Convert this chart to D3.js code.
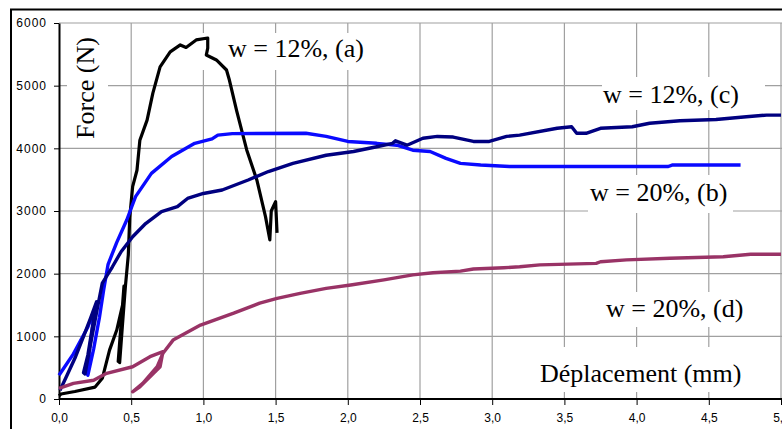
<!DOCTYPE html>
<html>
<head>
<meta charset="utf-8">
<script src="https://cdn.jsdelivr.net/npm/d3@7"></script>
<style>
  body { margin: 0; background: #fff; }
  svg { display: block; }
</style>
</head>
<body>
<script>
// displacement (mm), force (N)
const curveA = [[0,50],[0.014,80],[0.11,120],[0.25,190],[0.3,330],[0.35,780],[0.40,1100],[0.44,1500],[0.45,1800],
  [0.43,1200],[0.41,600],[0.42,580],[0.44,1200],[0.46,1800],[0.48,2300],[0.49,2900],[0.51,3390],[0.54,3650],
  [0.56,4130],[0.61,4450],[0.65,4880],[0.70,5300],[0.77,5540],[0.84,5650],[0.88,5610],[0.95,5730],[1.03,5760],
  [1.03,5600],[1.02,5490],[1.09,5410],[1.16,5250],[1.18,5090],[1.23,4600],[1.30,3975],[1.37,3495],[1.43,2910],
  [1.46,2540],[1.47,3000],[1.49,3100],[1.50,3150],[1.51,2650]];
const curveB = [[0,380],[0.1,720],[0.2,1150],[0.25,1450],[0.19,420],[0.2,380],[0.24,800],[0.28,1300],[0.31,1750],
  [0.34,2150],[0.40,2500],[0.47,2860],[0.53,3230],[0.64,3600],[0.78,3870],[0.94,4080],[1.06,4150],[1.10,4210],
  [1.2,4235],[1.71,4240],[1.85,4190],[2.0,4110],[2.2,4080],[2.34,4050],[2.45,3970],[2.57,3950],[2.68,3840],
  [2.78,3760],[2.92,3735],[3.12,3710],[4.22,3710],[4.25,3735],[4.72,3735]];
const curveC = [[0.007,140],[0.05,350],[0.11,650],[0.17,1000],[0.22,1300],[0.26,1550],[0.2,700],[0.17,420],[0.18,400],
  [0.22,900],[0.27,1500],[0.30,1850],[0.37,2110],[0.43,2350],[0.51,2590],[0.60,2800],[0.71,2990],[0.82,3070],
  [0.89,3200],[1.0,3280],[1.13,3335],[1.31,3495],[1.45,3630],[1.62,3760],[1.85,3890],[2.04,3950],[2.2,4025],
  [2.31,4080],[2.33,4120],[2.41,4050],[2.52,4160],[2.62,4190],[2.73,4180],[2.87,4110],[2.98,4110],[3.10,4190],
  [3.19,4210],[3.45,4320],[3.55,4345],[3.585,4240],[3.65,4240],[3.75,4320],[3.97,4345],[4.09,4400],[4.30,4440],
  [4.55,4460],[4.76,4505],[4.90,4530],[5.0,4530]];
const curveD = [[0,170],[0.1,250],[0.24,300],[0.33,410],[0.51,515],[0.63,675],[0.72,755],[0.70,515],[0.56,195],
  [0.51,115],[0.58,250],[0.68,515],[0.72,730],[0.79,940],[0.98,1180],[1.21,1370],[1.39,1530],[1.51,1605],
  [1.67,1685],[1.85,1765],[2.02,1820],[2.25,1900],[2.45,1980],[2.59,2015],[2.78,2040],[2.87,2075],[3.08,2095],
  [3.19,2110],[3.33,2140],[3.72,2165],[3.75,2190],[3.93,2220],[4.23,2245],[4.60,2270],[4.79,2310],[5.0,2310]];

const xTicks = [0, 0.5, 1, 1.5, 2, 2.5, 3, 3.5, 4, 4.5, 5];
const yTicks = [0, 1000, 2000, 3000, 4000, 5000, 6000];

const seriesNames = ["w = 12%, (a)", "w = 20%, (b)", "w = 12%, (c)", "w = 20%, (d)"];
const seriesColors = ["#000000", "#0a0aff", "#000080", "#993366"];

const width = 782, height = 429;
const x = d3.scaleLinear().domain([0, 5]).range([59, 781]);
const y = d3.scaleLinear().domain([0, 6000]).range([399, 23]);

const svg = d3.select("body").append("svg")
  .attr("width", width)
  .attr("height", height);

// outer frame (cut by the picture edge)
svg.append("path")
  .attr("d", `M11,${height + 2}V9.5H${width + 2}`)
  .attr("fill", "none")
  .attr("stroke", "#000")
  .attr("stroke-width", 2);

// grid
svg.append("g")
  .selectAll("line")
  .data(yTicks.slice(1))
  .join("line")
  .attr("x1", x(0)).attr("x2", width)
  .attr("y1", d => y(d)).attr("y2", d => y(d))
  .attr("stroke", "#a0a0a0").attr("stroke-width", 1.2);

svg.append("g")
  .selectAll("line")
  .data(xTicks.slice(1))
  .join("line")
  .attr("x1", d => x(d)).attr("x2", d => x(d))
  .attr("y1", y(6000)).attr("y2", y(0))
  .attr("stroke", "#a0a0a0").attr("stroke-width", 1.2);

// white boxes behind the labels
const boxes = [
  [67, 30, 41, 115],
  [200, 33, 172, 37],
  [602, 77, 163, 33],
  [588, 175, 145, 38],
  [600, 292, 145, 35],
  [535, 347, 210, 45]
];
svg.append("g")
  .selectAll("rect")
  .data(boxes)
  .join("rect")
  .attr("x", d => d[0]).attr("y", d => d[1])
  .attr("width", d => d[2]).attr("height", d => d[3])
  .attr("fill", "#fff");

// axes
const fmt = d => d3.format(".1f")(d).replace(".", ",");
const xAxis = svg.append("g")
  .attr("transform", `translate(0,${y(0)})`)
  .call(d3.axisBottom(x).tickValues(xTicks).tickFormat(fmt).tickSize(6).tickSizeOuter(0));
xAxis.select(".domain").attr("stroke-width", 2).attr("d", `M${x(0)},0H${width}`);
xAxis.selectAll("text")
  .attr("y", 14)
  .attr("font-family", "'Liberation Sans', Arial, sans-serif")
  .attr("font-size", 12)
  .attr("fill", "#000");

const yAxis = svg.append("g")
  .attr("transform", `translate(${x(0)},0)`)
  .call(d3.axisLeft(y).tickValues(yTicks).tickFormat(d3.format("d")).tickSize(5).tickSizeOuter(0));
yAxis.select(".domain").attr("stroke-width", 2);
yAxis.selectAll("text")
  .attr("x", -12)
  .attr("font-family", "'Liberation Sans', Arial, sans-serif")
  .attr("font-size", 12)
  .attr("letter-spacing", 1)
  .attr("fill", "#000");

// curves
const line = d3.line()
  .x(d => x(d[0]))
  .y(d => y(d[1]));

const curves = [curveA, curveB, curveC, curveD];
svg.append("g")
  .selectAll("path")
  .data(curves)
  .join("path")
  .attr("d", d => line(d))
  .attr("fill", "none")
  .attr("stroke", (d, i) => seriesColors[i])
  .attr("stroke-width", (d, i) => i === 0 ? 3.2 : 3.4)
  .attr("stroke-linejoin", "round");

// labels
const serif = "'Liberation Serif', 'Times New Roman', serif";
const labelPos = [[228, 57], [590, 201], [603, 103], [606, 317]];
svg.append("g")
  .selectAll("text")
  .data(seriesNames)
  .join("text")
  .attr("x", (d, i) => labelPos[i][0])
  .attr("y", (d, i) => labelPos[i][1])
  .attr("font-family", serif)
  .attr("font-size", 26)
  .attr("fill", "#000")
  .text(d => d);

svg.append("text")
  .attr("x", 540).attr("y", 382)
  .attr("font-family", serif)
  .attr("font-size", 26)
  .text("Déplacement (mm)");

svg.append("text")
  .attr("transform", "translate(94,88) rotate(-90)")
  .attr("text-anchor", "middle")
  .attr("font-family", serif)
  .attr("font-size", 26)
  .text("Force (N)");
</script>
</body>
</html>
